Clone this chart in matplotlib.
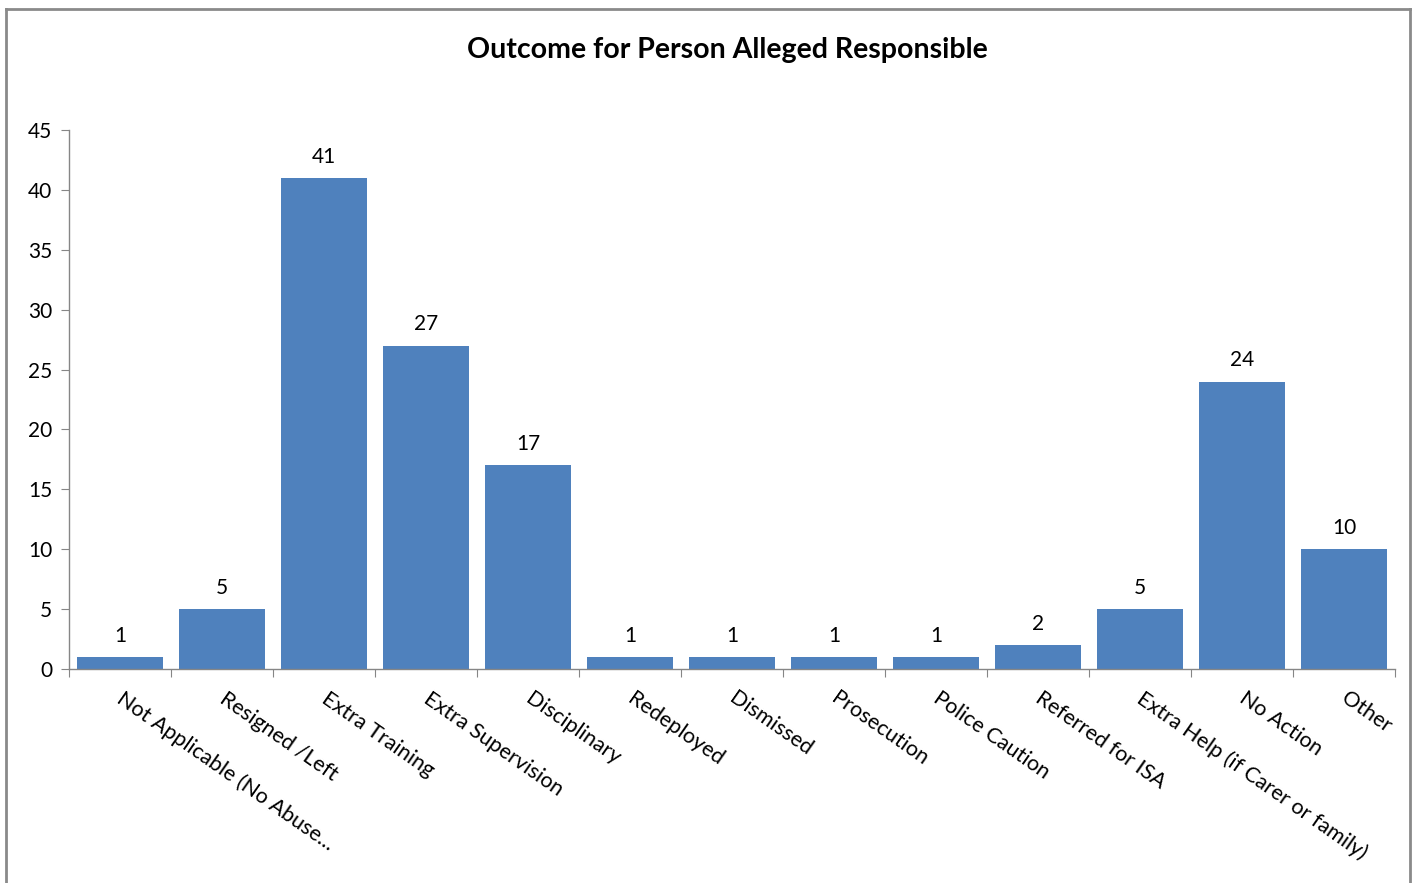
import matplotlib
matplotlib.use("Agg")
import matplotlib.pyplot as plt
from matplotlib.lines import Line2D

categories = [
    "Not Applicable (No Abuse...",
    "Resigned /Left",
    "Extra Training",
    "Extra Supervision",
    "Disciplinary",
    "Redeployed",
    "Dismissed",
    "Prosecution",
    "Police Caution",
    "Referred for ISA",
    "Extra Help (if Carer or family)",
    "No Action",
    "Other",
]
counts = [1, 5, 41, 27, 17, 1, 1, 1, 1, 2, 5, 24, 10]
y_ticks = [0, 5, 10, 15, 20, 25, 30, 35, 40, 45]

plt.rcParams["font.family"] = ["Lato", "DejaVu Sans"]

W, H = 1415, 883
fig = plt.figure(figsize=(W / 100, H / 100), dpi=100)
fig.patch.set_facecolor("white")

ax = fig.add_axes([69 / W, 1 - 669 / H, (1395 - 69) / W, (669 - 130) / H])

x = list(range(len(categories)))
bars = ax.bar(x, counts, width=0.84, color="#4F81BD", edgecolor="none", zorder=2)

for xi, v in zip(x, counts):
    ax.annotate(str(v), (xi, v), xytext=(0, 8), textcoords="offset points",
                ha="center", va="bottom", fontsize=15, color="black")

ax.set_xlim(-0.5, len(categories) - 0.5)
ax.set_ylim(0, 45)
ax.set_yticks(y_ticks)
ax.tick_params(axis="y", labelsize=15, length=6, color="#868686", pad=6)

# category boundary ticks on the x axis
ax.set_xticks([i - 0.5 for i in range(len(categories) + 1)])
ax.set_xticklabels([])
ax.tick_params(axis="x", length=6, color="#868686", direction="out")

for xi, name in zip(x, categories):
    ax.text(xi + 0.05, -1.6, name, rotation=-35, rotation_mode="anchor",
            ha="left", va="top", fontsize=15.5, color="black")

for side in ["top", "right"]:
    ax.spines[side].set_visible(False)
for side in ["left", "bottom"]:
    ax.spines[side].set_color("#868686")
    ax.spines[side].set_linewidth(1.0)

fig.text(727 / W, 1 - 50 / H, "Outcome for Person Alleged Responsible",
         ha="center", va="center", fontsize=20.5, fontweight="bold")

# chart area frame
frame_kw = dict(color="#8a8a8a", linewidth=2, transform=fig.transFigure)
fig.add_artist(Line2D([6 / W, 6 / W], [0, 1 - 8.5 / H], **frame_kw))
fig.add_artist(Line2D([6 / W, 1410 / W], [1 - 8.5 / H, 1 - 8.5 / H], **frame_kw))
fig.add_artist(Line2D([1410 / W, 1410 / W], [0, 1 - 8.5 / H], **frame_kw))

fig.savefig("out.png", dpi=100, facecolor="white")
